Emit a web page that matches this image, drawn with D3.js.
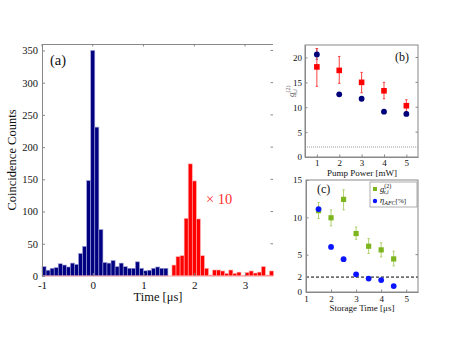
<!DOCTYPE html>
<html>
<head>
<meta charset="utf-8">
<script src="https://cdn.jsdelivr.net/npm/d3@7"></script>
<style>
    body { margin: 0; background: #fff; }
    svg { display: block; }
    text { font-family: "Liberation Serif", "Times New Roman", "DejaVu Serif", serif; fill: #111; }
    .frame { stroke: #888; fill: none; stroke-width: 1; }
    .axis path { stroke: #888; }
    .axis line { stroke: #888; }
</style>
</head>
<body>
<svg width="450" height="338"></svg>
<script>

// ---- panel (a): coincidence histogram ----
var blueTimes = [-1.00, -0.92, -0.84, -0.76, -0.68, -0.60, -0.52, -0.44, -0.36, -0.28,
                 -0.20, -0.12, -0.04, 0.04, 0.12, 0.20, 0.28, 0.36, 0.44, 0.52,
                 0.60, 0.68, 0.76, 0.84, 0.92, 1.00, 1.08, 1.16, 1.24, 1.32, 1.40];
var blueCounts = [14.5, 9, 12, 13, 19, 17, 14, 20, 18, 35,
                  46, 148, 350, 231, 72, 21, 20, 24, 14.5, 20,
                  14.5, 12, 12, 22, 12, 8, 9, 12, 14, 12, 12];
var redTimes = [1.56, 1.64, 1.72, 1.80, 1.88, 1.96, 2.04, 2.12, 2.20, 2.28,
                2.36, 2.44, 2.52, 2.60, 2.68, 2.76, 2.84, 2.92, 3.00, 3.08,
                3.16, 3.24, 3.32, 3.40, 3.48];
var redCounts = [17, 30, 31.5, 89.5, 174, 147.5, 88.5, 31.5, 12, 1.5,
                 9.3, 9.3, 7.8, 4, 9.3, 4, 6, 0.5, 5.5, 7.8,
                 4.6, 6, 14.5, 1.5, 7.8];
var binWidth = 0.08;
var aXTicks = [-1, 0, 1, 2, 3];
var aYTicks = [0, 50, 100, 150, 200, 250, 300, 350];

// ---- panel (b): g2 vs pump power ----
var pumpPower = [1, 2, 3, 4, 5];
var g2Stored = [20.6, 12.6, 11.7, 9.1, 8.66];
var g2StoredErr = [[19.6, 21.8], null, null, null, null];
var g2Direct = [18.1, 17.4, 15.0, 13.3, 10.3];
var g2DirectErr = [[14.2, 21.8], [14.8, 20.2], [12.9, 17.0], [11.7, 15.0], [9.1, 11.5]];
var bClassical = 2;
var bXTicks = [1, 2, 3, 4, 5];
var bYTicks = [0, 5, 10, 15, 20];

// ---- panel (c): vs storage time ----
var storageTime = [1.5, 2, 2.5, 3, 3.5, 4, 4.5];
var g2si = [10.9, 9.94, 12.4, 7.83, 6.13, 5.64, 4.43];
var g2siErr = [[9.85, 12.0], [8.86, 11.0], [11.0, 13.7], [7.07, 8.7], [5.15, 7.16], [4.7, 6.6], [3.5, 5.46]];
var etaAFC = [11.1, 6.04, 4.39, 2.37, 1.8, 1.6, 0.8];
var cClassical = 2;
var cXTicks = [1, 2, 3, 4, 5];
var cYTicks = [0, 2, 5, 10, 15];

var svg = d3.select('svg');
var plain = function (d) { return String(d); };

function frameTicks(g, x, y, xt, yt, sides) {
    // small inward ticks on the top / right edges
    var r = x.range(), t = y.range();
    if (sides.indexOf('top') >= 0) {
        g.selectAll('.tt').data(xt).enter().append('line')
            .attr('x1', function (d) { return x(d); }).attr('x2', function (d) { return x(d); })
            .attr('y1', t[1]).attr('y2', t[1] + 2.5)
            .attr('stroke', '#888');
    }
    if (sides.indexOf('right') >= 0) {
        g.selectAll('.rt').data(yt).enter().append('line')
            .attr('x1', r[1]).attr('x2', r[1] - 2.5)
            .attr('y1', function (d) { return y(d); }).attr('y2', function (d) { return y(d); })
            .attr('stroke', '#888');
    }
}

function errorBars(g, data, x, y, color, cap) {
    data.forEach(function (d) {
        if (!d.err) return;
        g.append('line')
            .attr('x1', x(d.x)).attr('x2', x(d.x))
            .attr('y1', y(d.err[0])).attr('y2', y(d.err[1]))
            .attr('stroke', color).attr('stroke-width', 1);
        [d.err[0], d.err[1]].forEach(function (v) {
            g.append('line')
                .attr('x1', x(d.x) - cap).attr('x2', x(d.x) + cap)
                .attr('y1', y(v)).attr('y2', y(v))
                .attr('stroke', color).attr('stroke-width', 1);
        });
    });
}

// ================= panel (a) =================
var ax = d3.scaleLinear().domain([-1, 3.55]).range([42, 273]);
var ay = d3.scaleLinear().domain([0, 360]).range([276, 44]);
var ga = svg.append('g');

var blueData = blueTimes.map(function (t, i) { return {t: t, v: blueCounts[i]}; });
var redData = redTimes.map(function (t, i) { return {t: t, v: redCounts[i]}; });

ga.selectAll('.blue').data(blueData).enter().append('rect')
    .attr('x', function (d) { return ax(d.t); })
    .attr('width', function (d) { return ax(d.t + binWidth) - ax(d.t); })
    .attr('y', function (d) { return ay(d.v); })
    .attr('height', function (d) { return ay(0) - ay(d.v); })
    .attr('fill', '#000080')
    .attr('stroke', '#a0a0d8').attr('stroke-width', 0.6);

ga.selectAll('.red').data(redData).enter().append('rect')
    .attr('x', function (d) { return ax(d.t); })
    .attr('width', function (d) { return ax(d.t + binWidth) - ax(d.t); })
    .attr('y', function (d) { return ay(d.v); })
    .attr('height', function (d) { return ay(0) - ay(d.v); })
    .attr('fill', '#ff0000')
    .attr('stroke', '#ffb0b0').attr('stroke-width', 0.6);

// pink baseline
ga.append('line').attr('x1', ax(-1)).attr('x2', ax(3.55))
    .attr('y1', ay(0)).attr('y2', ay(0))
    .attr('stroke', '#ffa8a8').attr('stroke-width', 1);

ga.append('line').attr('x1', ax(-1)).attr('x2', ax(3.55))
    .attr('y1', ay(360) + 0.5).attr('y2', ay(360) + 0.5).attr('stroke', '#888');

ga.append('g').attr('class', 'axis').attr('transform', 'translate(' + ax(-1) + ',0)')
    .call(d3.axisLeft(ay).tickValues(aYTicks).tickFormat(plain).tickSize(-3).tickPadding(4).tickSizeOuter(0))
    .call(function (g) {
        g.selectAll('text').style('font-size', '10.5px');
        g.select('.domain').attr('stroke', '#888');
    });

ga.append('g').attr('class', 'axis').attr('transform', 'translate(0,' + ay(0) + ')')
    .call(d3.axisBottom(ax).tickValues(aXTicks).tickFormat(plain).tickSize(-3).tickPadding(5).tickSizeOuter(0))
    .call(function (g) {
        g.selectAll('text').style('font-size', '11px');
        g.select('.domain').remove();
    });

frameTicks(ga, ax, ay, aXTicks, aYTicks.slice(1), ['top', 'right']);

ga.append('text').attr('x', 158).attr('y', 301).attr('text-anchor', 'middle')
    .style('font-size', '12.5px').text('Time [\u03bcs]');
ga.append('text').attr('transform', 'translate(16,160) rotate(-90)').attr('text-anchor', 'middle')
    .style('font-size', '12.5px').text('Coincidence Counts');
ga.append('text').attr('x', 50).attr('y', 65).style('font-size', '14.5px').text('(a)');
ga.append('text').attr('x', 206).attr('y', 204).style('font-size', '14.5px')
    .style('fill', '#ff3030').text('\u00d7 10');

// ================= panel (b) =================
var bx = d3.scaleLinear().domain([0.47, 5.52]).range([305, 418]);
var by = d3.scaleLinear().domain([0, 22.5]).range([157, 45]);
var gb = svg.append('g');

gb.append('line').attr('x1', bx(0.47)).attr('x2', bx(5.52))
    .attr('y1', by(bClassical)).attr('y2', by(bClassical))
    .attr('stroke', '#bbb').attr('stroke-width', 1.5).attr('stroke-dasharray', '1,1');

gb.append('rect').attr('class', 'frame').attr('x', 305).attr('y', 45)
    .attr('width', 113).attr('height', 112);

gb.append('g').attr('class', 'axis').attr('transform', 'translate(305,0)')
    .call(d3.axisLeft(by).tickValues(bYTicks).tickFormat(plain).tickSize(-2.5).tickPadding(3).tickSizeOuter(0))
    .call(function (g) { g.selectAll('text').style('font-size', '9px'); });
gb.append('g').attr('class', 'axis').attr('transform', 'translate(0,157)')
    .call(d3.axisBottom(bx).tickValues(bXTicks).tickFormat(plain).tickSize(-2.5).tickPadding(3).tickSizeOuter(0))
    .call(function (g) { g.selectAll('text').style('font-size', '9px'); });
frameTicks(gb, bx, by, bXTicks, bYTicks.slice(1), ['right']);

var bDirect = pumpPower.map(function (p, i) { return {x: p, v: g2Direct[i], err: g2DirectErr[i]}; });
var bStored = pumpPower.map(function (p, i) { return {x: p, v: g2Stored[i], err: g2StoredErr[i]}; });

errorBars(gb, bStored, bx, by, '#6060b0', 1.2);
errorBars(gb, bDirect, bx, by, '#ff4040', 1.2);

gb.selectAll('.sq').data(bDirect).enter().append('rect')
    .attr('x', function (d) { return bx(d.x) - 2.8; })
    .attr('y', function (d) { return by(d.v) - 2.8; })
    .attr('width', 5.6).attr('height', 5.6).attr('fill', '#ff0000');
gb.selectAll('.dot').data(bStored).enter().append('circle')
    .attr('cx', function (d) { return bx(d.x); })
    .attr('cy', function (d) { return by(d.v); })
    .attr('r', 2.9).attr('fill', '#00007a');

gb.append('text').attr('x', 362).attr('y', 176).attr('text-anchor', 'middle')
    .style('font-size', '9px').text('Pump Power [mW]');
gb.append('text').attr('x', 395).attr('y', 61).style('font-size', '12px').text('(b)');

var bl = gb.append('text').attr('transform', 'translate(294,97) rotate(-90)')
    .style('font-size', '9px').style('fill', '#666');
bl.append('tspan').style('font-style', 'italic').text('g');
bl.append('tspan').attr('dy', -4).style('font-size', '6px').text('(2)');
bl.append('tspan').attr('dx', -9).attr('dy', 7).style('font-size', '6px').style('font-style', 'italic').text('s,i');

// ================= panel (c) =================
var cx = d3.scaleLinear().domain([1, 5.47]).range([306, 418]);
var cy = d3.scaleLinear().domain([0, 15]).range([292, 180]);
var gc = svg.append('g');

gc.append('line').attr('x1', cx(1)).attr('x2', cx(5.47))
    .attr('y1', cy(cClassical)).attr('y2', cy(cClassical))
    .attr('stroke', '#000').attr('stroke-width', 1).attr('stroke-dasharray', '3,2');

gc.append('rect').attr('class', 'frame').attr('x', 306).attr('y', 180)
    .attr('width', 112).attr('height', 112);

gc.append('g').attr('class', 'axis').attr('transform', 'translate(306,0)')
    .call(d3.axisLeft(cy).tickValues(cYTicks).tickFormat(plain).tickSize(-2.5).tickPadding(4).tickSizeOuter(0))
    .call(function (g) { g.selectAll('text').style('font-size', '9px'); });
gc.append('g').attr('class', 'axis').attr('transform', 'translate(0,292)')
    .call(d3.axisBottom(cx).tickValues(cXTicks).tickFormat(plain).tickSize(-2.5).tickPadding(4).tickSizeOuter(0))
    .call(function (g) { g.selectAll('text').style('font-size', '9px'); });
frameTicks(gc, cx, cy, cXTicks, [5], ['right']);

var cG2 = storageTime.map(function (t, i) { return {x: t, v: g2si[i], err: g2siErr[i]}; });
var cEta = storageTime.map(function (t, i) { return {x: t, v: etaAFC[i]}; });

errorBars(gc, cG2, cx, cy, '#b0d070', 1.2);
gc.selectAll('.sq').data(cG2).enter().append('rect')
    .attr('x', function (d) { return cx(d.x) - 2.6; })
    .attr('y', function (d) { return cy(d.v) - 2.6; })
    .attr('width', 5.2).attr('height', 5.2).attr('fill', '#7db51e');
gc.selectAll('.dot').data(cEta).enter().append('circle')
    .attr('cx', function (d) { return cx(d.x); })
    .attr('cy', function (d) { return cy(d.v); })
    .attr('r', 2.9).attr('fill', '#0a14ff');

gc.append('text').attr('x', 362).attr('y', 311).attr('text-anchor', 'middle')
    .style('font-size', '9px').text('Storage Time [\u03bcs]');
gc.append('text').attr('x', 317).attr('y', 193).style('font-size', '12px').text('(c)');

// legend
var lg = gc.append('g');
lg.append('rect').attr('x', 370).attr('y', 182).attr('width', 47).attr('height', 25)
    .attr('fill', '#fff').attr('stroke', '#999').attr('stroke-width', 0.8);
lg.append('rect').attr('x', 373).attr('y', 187).attr('width', 4).attr('height', 4).attr('fill', '#7db51e');
lg.append('circle').attr('cx', 375).attr('cy', 201).attr('r', 2.2).attr('fill', '#0a14ff');
var l1 = lg.append('text').attr('x', 380).attr('y', 192).style('font-size', '8.5px');
l1.append('tspan').style('font-style', 'italic').text('g');
l1.append('tspan').attr('dy', -4).style('font-size', '6px').text('(2)');
l1.append('tspan').attr('dx', -8).attr('dy', 6).style('font-size', '6px').style('font-style', 'italic').text('s,i');
var l2 = lg.append('text').attr('x', 380).attr('y', 203).style('font-size', '8.5px');
l2.append('tspan').style('font-style', 'italic').text('\u03b7');
l2.append('tspan').attr('dy', 1.5).style('font-size', '6px').style('font-style', 'italic').text('AFC');
l2.append('tspan').attr('dy', -1.5).style('font-size', '7px').text('[%]');

</script>
</body>
</html>
